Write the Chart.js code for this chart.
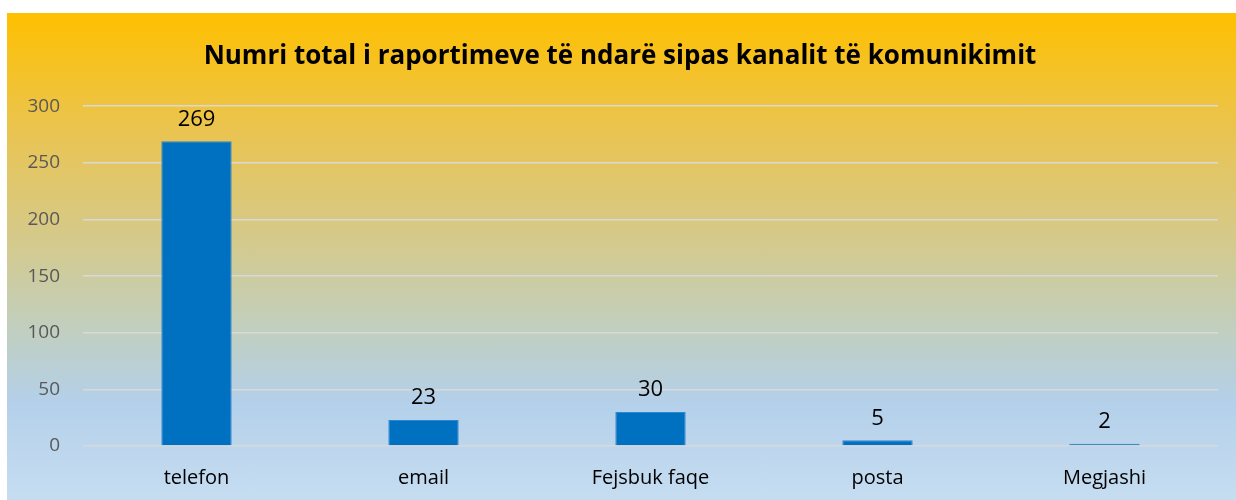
<!DOCTYPE html>
<html>
<head>
<meta charset="utf-8">
<script src="https://cdn.jsdelivr.net/npm/chart.js@4/dist/chart.umd.min.js"></script>
<style>
  html, body { margin: 0; padding: 0; background: #fff; }
  #box {
    position: absolute; left: 7px; top: 13px; width: 1229px; height: 487px;
    background: linear-gradient(to bottom, #FFC000 0%, #E9C453 25%, #D3CA8F 48%, #C1CFBF 65%, #B4D0EA 80%, #C6DDF1 100%);
  }
</style>
</head>
<body>
<div id="box"><canvas id="barChart" width="1229" height="487"></canvas></div>
<script>
var titleText = "Numri total i raportimeve të ndarë sipas kanalit të komunikimit";
var channels = ["telefon", "email", "Fejsbuk faqe", "posta", "Megjashi"];
var reports = [269, 23, 30, 5, 2];
var yTicks = [0, 50, 100, 150, 200, 250, 300];

var fontName = "'Open Sans', sans-serif";

// writes the value above each bar
var valueLabels = {
    id: 'valueLabels',
    afterDatasetsDraw: function (chart) {
        var ctx = chart.ctx;
        var meta = chart.getDatasetMeta(0);
        ctx.save();
        ctx.font = "22px " + fontName;
        ctx.fillStyle = "#000000";
        ctx.textAlign = "center";
        ctx.textBaseline = "middle";
        meta.data.forEach(function (bar, i) {
            ctx.fillText(reports[i], bar.x, bar.y - 22);
        });
        ctx.restore();
    }
};

var ctxB = document.getElementById("barChart").getContext('2d');
var myBarChart = new Chart(ctxB, {
    type: 'bar',
    data: {
        labels: channels,
        datasets: [{
            data: reports,
            backgroundColor: "#0070C0",
            borderColor: "#2E86CF",
            borderWidth: 1,
            barPercentage: 0.31,
            categoryPercentage: 1
        }]
    },
    options: {
        responsive: false,
        animation: false,
        layout: { padding: { left: 15, right: 18, top: 0, bottom: 11 } },
        plugins: {
            legend: { display: false },
            tooltip: { enabled: false },
            title: {
                display: true,
                text: titleText,
                color: "#000000",
                font: { family: fontName, size: 26, weight: 'bold' },
                padding: { top: 28, bottom: 34 }
            }
        },
        scales: {
            x: {
                grid: { display: false, drawTicks: false },
                border: { display: false },
                afterFit: function (scale) { scale.height = 43; },
                ticks: {
                    color: "#000000",
                    padding: 20,
                    font: { family: fontName, size: 20 }
                }
            },
            y: {
                min: 0,
                max: 300,
                afterBuildTicks: function (scale) {
                    scale.ticks = yTicks.map(function (v) { return { value: v }; });
                },
                afterFit: function (scale) { scale.width = 61; },
                grid: { color: "#D9D9D9", lineWidth: 1.5, drawTicks: false },
                border: { display: false },
                ticks: {
                    color: "#595959",
                    padding: 23,
                    font: { family: fontName, size: 19 }
                }
            }
        }
    },
    plugins: [valueLabels]
});
</script>
</body>
</html>
